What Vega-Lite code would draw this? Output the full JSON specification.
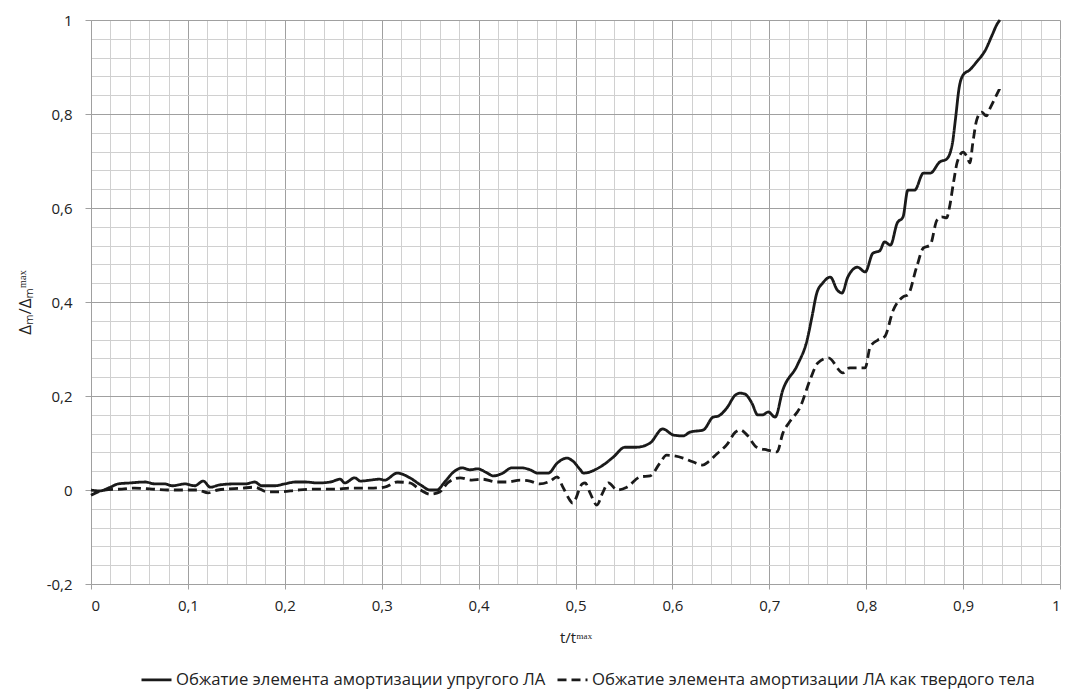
{
  "$schema": "https://vega.github.io/schema/vega-lite/v6.json",
  "width": 969,
  "height": 564,
  "autosize": {"type": "none"},
  "padding": {"left": 91, "top": 20, "right": 7, "bottom": 115},
  "background": "white",
  "config": {
    "view": {"stroke": null},
    "font": "Open Sans",
    "axis": {"labelFont": "Open Sans", "titleFont": "Open Sans", "labelColor": "#222", "titleColor": "#222", "titleFontWeight": "normal"},
    "legend": {"labelFont": "Open Sans"}
  },
  "datasets": {
    "curves": [
      {"t": 0.000, "d": 0.000, "s": "Обжатие элемента амортизации упругого ЛА"},
      {"t": 0.009, "d": -0.002, "s": "Обжатие элемента амортизации упругого ЛА"},
      {"t": 0.020, "d": 0.006, "s": "Обжатие элемента амортизации упругого ЛА"},
      {"t": 0.028, "d": 0.013, "s": "Обжатие элемента амортизации упругого ЛА"},
      {"t": 0.040, "d": 0.015, "s": "Обжатие элемента амортизации упругого ЛА"},
      {"t": 0.056, "d": 0.017, "s": "Обжатие элемента амортизации упругого ЛА"},
      {"t": 0.066, "d": 0.013, "s": "Обжатие элемента амортизации упругого ЛА"},
      {"t": 0.076, "d": 0.013, "s": "Обжатие элемента амортизации упругого ЛА"},
      {"t": 0.084, "d": 0.009, "s": "Обжатие элемента амортизации упругого ЛА"},
      {"t": 0.097, "d": 0.013, "s": "Обжатие элемента амортизации упругого ЛА"},
      {"t": 0.107, "d": 0.009, "s": "Обжатие элемента амортизации упругого ЛА"},
      {"t": 0.116, "d": 0.019, "s": "Обжатие элемента амортизации упругого ЛА"},
      {"t": 0.123, "d": 0.006, "s": "Обжатие элемента амортизации упругого ЛА"},
      {"t": 0.133, "d": 0.011, "s": "Обжатие элемента амортизации упругого ЛА"},
      {"t": 0.149, "d": 0.013, "s": "Обжатие элемента амортизации упругого ЛА"},
      {"t": 0.159, "d": 0.013, "s": "Обжатие элемента амортизации упругого ЛА"},
      {"t": 0.169, "d": 0.017, "s": "Обжатие элемента амортизации упругого ЛА"},
      {"t": 0.176, "d": 0.009, "s": "Обжатие элемента амортизации упругого ЛА"},
      {"t": 0.190, "d": 0.009, "s": "Обжатие элемента амортизации упругого ЛА"},
      {"t": 0.200, "d": 0.013, "s": "Обжатие элемента амортизации упругого ЛА"},
      {"t": 0.211, "d": 0.017, "s": "Обжатие элемента амортизации упругого ЛА"},
      {"t": 0.221, "d": 0.017, "s": "Обжатие элемента амортизации упругого ЛА"},
      {"t": 0.234, "d": 0.015, "s": "Обжатие элемента амортизации упругого ЛА"},
      {"t": 0.247, "d": 0.017, "s": "Обжатие элемента амортизации упругого ЛА"},
      {"t": 0.257, "d": 0.023, "s": "Обжатие элемента амортизации упругого ЛА"},
      {"t": 0.262, "d": 0.015, "s": "Обжатие элемента амортизации упругого ЛА"},
      {"t": 0.272, "d": 0.026, "s": "Обжатие элемента амортизации упругого ЛА"},
      {"t": 0.278, "d": 0.019, "s": "Обжатие элемента амортизации упругого ЛА"},
      {"t": 0.288, "d": 0.021, "s": "Обжатие элемента амортизации упругого ЛА"},
      {"t": 0.298, "d": 0.023, "s": "Обжатие элемента амортизации упругого ЛА"},
      {"t": 0.303, "d": 0.021, "s": "Обжатие элемента амортизации упругого ЛА"},
      {"t": 0.316, "d": 0.036, "s": "Обжатие элемента амортизации упругого ЛА"},
      {"t": 0.329, "d": 0.026, "s": "Обжатие элемента амортизации упругого ЛА"},
      {"t": 0.340, "d": 0.011, "s": "Обжатие элемента амортизации упругого ЛА"},
      {"t": 0.350, "d": 0.000, "s": "Обжатие элемента амортизации упругого ЛА"},
      {"t": 0.357, "d": 0.000, "s": "Обжатие элемента амортизации упругого ЛА"},
      {"t": 0.365, "d": 0.017, "s": "Обжатие элемента амортизации упругого ЛА"},
      {"t": 0.374, "d": 0.038, "s": "Обжатие элемента амортизации упругого ЛА"},
      {"t": 0.383, "d": 0.047, "s": "Обжатие элемента амортизации упругого ЛА"},
      {"t": 0.391, "d": 0.043, "s": "Обжатие элемента амортизации упругого ЛА"},
      {"t": 0.399, "d": 0.045, "s": "Обжатие элемента амортизации упругого ЛА"},
      {"t": 0.409, "d": 0.036, "s": "Обжатие элемента амортизации упругого ЛА"},
      {"t": 0.415, "d": 0.030, "s": "Обжатие элемента амортизации упругого ЛА"},
      {"t": 0.425, "d": 0.036, "s": "Обжатие элемента амортизации упругого ЛА"},
      {"t": 0.434, "d": 0.047, "s": "Обжатие элемента амортизации упругого ЛА"},
      {"t": 0.445, "d": 0.047, "s": "Обжатие элемента амортизации упругого ЛА"},
      {"t": 0.453, "d": 0.043, "s": "Обжатие элемента амортизации упругого ЛА"},
      {"t": 0.461, "d": 0.036, "s": "Обжатие элемента амортизации упругого ЛА"},
      {"t": 0.472, "d": 0.036, "s": "Обжатие элемента амортизации упругого ЛА"},
      {"t": 0.481, "d": 0.057, "s": "Обжатие элемента амортизации упругого ЛА"},
      {"t": 0.491, "d": 0.068, "s": "Обжатие элемента амортизации упругого ЛА"},
      {"t": 0.497, "d": 0.062, "s": "Обжатие элемента амортизации упругого ЛА"},
      {"t": 0.505, "d": 0.043, "s": "Обжатие элемента амортизации упругого ЛА"},
      {"t": 0.508, "d": 0.036, "s": "Обжатие элемента амортизации упругого ЛА"},
      {"t": 0.527, "d": 0.051, "s": "Обжатие элемента амортизации упругого ЛА"},
      {"t": 0.539, "d": 0.070, "s": "Обжатие элемента амортизации упругого ЛА"},
      {"t": 0.551, "d": 0.091, "s": "Обжатие элемента амортизации упругого ЛА"},
      {"t": 0.563, "d": 0.091, "s": "Обжатие элемента амортизации упругого ЛА"},
      {"t": 0.577, "d": 0.100, "s": "Обжатие элемента амортизации упругого ЛА"},
      {"t": 0.590, "d": 0.130, "s": "Обжатие элемента амортизации упругого ЛА"},
      {"t": 0.601, "d": 0.117, "s": "Обжатие элемента амортизации упругого ЛА"},
      {"t": 0.611, "d": 0.115, "s": "Обжатие элемента амортизации упругого ЛА"},
      {"t": 0.618, "d": 0.123, "s": "Обжатие элемента амортизации упругого ЛА"},
      {"t": 0.632, "d": 0.128, "s": "Обжатие элемента амортизации упругого ЛА"},
      {"t": 0.642, "d": 0.155, "s": "Обжатие элемента амортизации упругого ЛА"},
      {"t": 0.647, "d": 0.157, "s": "Обжатие элемента амортизации упругого ЛА"},
      {"t": 0.656, "d": 0.174, "s": "Обжатие элемента амортизации упругого ЛА"},
      {"t": 0.665, "d": 0.202, "s": "Обжатие элемента амортизации упругого ЛА"},
      {"t": 0.670, "d": 0.206, "s": "Обжатие элемента амортизации упругого ЛА"},
      {"t": 0.675, "d": 0.204, "s": "Обжатие элемента амортизации упругого ЛА"},
      {"t": 0.682, "d": 0.185, "s": "Обжатие элемента амортизации упругого ЛА"},
      {"t": 0.688, "d": 0.160, "s": "Обжатие элемента амортизации упругого ЛА"},
      {"t": 0.693, "d": 0.160, "s": "Обжатие элемента амортизации упругого ЛА"},
      {"t": 0.699, "d": 0.166, "s": "Обжатие элемента амортизации упругого ЛА"},
      {"t": 0.706, "d": 0.155, "s": "Обжатие элемента амортизации упругого ЛА"},
      {"t": 0.714, "d": 0.213, "s": "Обжатие элемента амортизации упругого ЛА"},
      {"t": 0.729, "d": 0.266, "s": "Обжатие элемента амортизации упругого ЛА"},
      {"t": 0.739, "d": 0.319, "s": "Обжатие элемента амортизации упругого ЛА"},
      {"t": 0.744, "d": 0.368, "s": "Обжатие элемента амортизации упругого ЛА"},
      {"t": 0.749, "d": 0.419, "s": "Обжатие элемента амортизации упругого ЛА"},
      {"t": 0.755, "d": 0.440, "s": "Обжатие элемента амортизации упругого ЛА"},
      {"t": 0.763, "d": 0.453, "s": "Обжатие элемента амортизации упругого ЛА"},
      {"t": 0.770, "d": 0.426, "s": "Обжатие элемента амортизации упругого ЛА"},
      {"t": 0.775, "d": 0.419, "s": "Обжатие элемента амортизации упругого ЛА"},
      {"t": 0.781, "d": 0.453, "s": "Обжатие элемента амортизации упругого ЛА"},
      {"t": 0.791, "d": 0.474, "s": "Обжатие элемента амортизации упругого ЛА"},
      {"t": 0.799, "d": 0.464, "s": "Обжатие элемента амортизации упругого ЛА"},
      {"t": 0.807, "d": 0.504, "s": "Обжатие элемента амортизации упругого ЛА"},
      {"t": 0.814, "d": 0.509, "s": "Обжатие элемента амортизации упругого ЛА"},
      {"t": 0.819, "d": 0.528, "s": "Обжатие элемента амортизации упругого ЛА"},
      {"t": 0.825, "d": 0.521, "s": "Обжатие элемента амортизации упругого ЛА"},
      {"t": 0.832, "d": 0.568, "s": "Обжатие элемента амортизации упругого ЛА"},
      {"t": 0.838, "d": 0.581, "s": "Обжатие элемента амортизации упругого ЛА"},
      {"t": 0.843, "d": 0.638, "s": "Обжатие элемента амортизации упругого ЛА"},
      {"t": 0.850, "d": 0.638, "s": "Обжатие элемента амортизации упругого ЛА"},
      {"t": 0.859, "d": 0.674, "s": "Обжатие элемента амортизации упругого ЛА"},
      {"t": 0.866, "d": 0.674, "s": "Обжатие элемента амортизации упругого ЛА"},
      {"t": 0.876, "d": 0.698, "s": "Обжатие элемента амортизации упругого ЛА"},
      {"t": 0.883, "d": 0.704, "s": "Обжатие элемента амортизации упругого ЛА"},
      {"t": 0.889, "d": 0.738, "s": "Обжатие элемента амортизации упругого ЛА"},
      {"t": 0.892, "d": 0.787, "s": "Обжатие элемента амортизации упругого ЛА"},
      {"t": 0.896, "d": 0.857, "s": "Обжатие элемента амортизации упругого ЛА"},
      {"t": 0.900, "d": 0.883, "s": "Обжатие элемента амортизации упругого ЛА"},
      {"t": 0.907, "d": 0.894, "s": "Обжатие элемента амортизации упругого ЛА"},
      {"t": 0.914, "d": 0.911, "s": "Обжатие элемента амортизации упругого ЛА"},
      {"t": 0.923, "d": 0.936, "s": "Обжатие элемента амортизации упругого ЛА"},
      {"t": 0.930, "d": 0.968, "s": "Обжатие элемента амортизации упругого ЛА"},
      {"t": 0.935, "d": 0.991, "s": "Обжатие элемента амортизации упругого ЛА"},
      {"t": 0.938, "d": 1.000, "s": "Обжатие элемента амортизации упругого ЛА"},
      {"t": 0.000, "d": -0.011, "s": "Обжатие элемента амортизации ЛА  как твердого тела"},
      {"t": 0.014, "d": 0.000, "s": "Обжатие элемента амортизации ЛА  как твердого тела"},
      {"t": 0.032, "d": 0.002, "s": "Обжатие элемента амортизации ЛА  как твердого тела"},
      {"t": 0.045, "d": 0.004, "s": "Обжатие элемента амортизации ЛА  как твердого тела"},
      {"t": 0.063, "d": 0.002, "s": "Обжатие элемента амортизации ЛА  как твердого тела"},
      {"t": 0.079, "d": 0.000, "s": "Обжатие элемента амортизации ЛА  как твердого тела"},
      {"t": 0.097, "d": 0.000, "s": "Обжатие элемента амортизации ЛА  как твердого тела"},
      {"t": 0.110, "d": 0.000, "s": "Обжатие элемента амортизации ЛА  как твердого тела"},
      {"t": 0.121, "d": -0.006, "s": "Обжатие элемента амортизации ЛА  как твердого тела"},
      {"t": 0.131, "d": 0.000, "s": "Обжатие элемента амортизации ЛА  как твердого тела"},
      {"t": 0.156, "d": 0.004, "s": "Обжатие элемента амортизации ЛА  как твердого тела"},
      {"t": 0.169, "d": 0.006, "s": "Обжатие элемента амортизации ЛА  как твердого тела"},
      {"t": 0.182, "d": -0.004, "s": "Обжатие элемента амортизации ЛА  как твердого тела"},
      {"t": 0.193, "d": -0.004, "s": "Обжатие элемента амортизации ЛА  как твердого тела"},
      {"t": 0.214, "d": 0.000, "s": "Обжатие элемента амортизации ЛА  как твердого тела"},
      {"t": 0.234, "d": 0.002, "s": "Обжатие элемента амортизации ЛА  как твердого тела"},
      {"t": 0.252, "d": 0.002, "s": "Обжатие элемента амортизации ЛА  как твердого тела"},
      {"t": 0.267, "d": 0.004, "s": "Обжатие элемента амортизации ЛА  как твердого тела"},
      {"t": 0.288, "d": 0.004, "s": "Обжатие элемента амортизации ЛА  как твердого тела"},
      {"t": 0.303, "d": 0.006, "s": "Обжатие элемента амортизации ЛА  как твердого тела"},
      {"t": 0.316, "d": 0.017, "s": "Обжатие элемента амортизации ЛА  как твердого тела"},
      {"t": 0.329, "d": 0.015, "s": "Обжатие элемента амортизации ЛА  как твердого тела"},
      {"t": 0.340, "d": 0.000, "s": "Обжатие элемента амортизации ЛА  как твердого тела"},
      {"t": 0.350, "d": -0.009, "s": "Обжатие элемента амортизации ЛА  как твердого тела"},
      {"t": 0.360, "d": -0.004, "s": "Обжатие элемента амортизации ЛА  как твердого тела"},
      {"t": 0.368, "d": 0.015, "s": "Обжатие элемента амортизации ЛА  как твердого тела"},
      {"t": 0.381, "d": 0.026, "s": "Обжатие элемента амортизации ЛА  как твердого тела"},
      {"t": 0.393, "d": 0.021, "s": "Обжатие элемента амортизации ЛА  как твердого тела"},
      {"t": 0.404, "d": 0.023, "s": "Обжатие элемента амортизации ЛА  как твердого тела"},
      {"t": 0.419, "d": 0.017, "s": "Обжатие элемента амортизации ЛА  как твердого тела"},
      {"t": 0.429, "d": 0.017, "s": "Обжатие элемента амортизации ЛА  как твердого тела"},
      {"t": 0.443, "d": 0.021, "s": "Обжатие элемента амортизации ЛА  как твердого тела"},
      {"t": 0.453, "d": 0.019, "s": "Обжатие элемента амортизации ЛА  как твердого тела"},
      {"t": 0.463, "d": 0.013, "s": "Обжатие элемента амортизации ЛА  как твердого тела"},
      {"t": 0.474, "d": 0.019, "s": "Обжатие элемента амортизации ЛА  как твердого тела"},
      {"t": 0.481, "d": 0.028, "s": "Обжатие элемента амортизации ЛА  как твердого тела"},
      {"t": 0.487, "d": 0.006, "s": "Обжатие элемента амортизации ЛА  как твердого тела"},
      {"t": 0.494, "d": -0.021, "s": "Обжатие элемента амортизации ЛА  как твердого тела"},
      {"t": 0.497, "d": -0.028, "s": "Обжатие элемента амортизации ЛА  как твердого тела"},
      {"t": 0.507, "d": 0.013, "s": "Обжатие элемента амортизации ЛА  как твердого тела"},
      {"t": 0.510, "d": 0.015, "s": "Обжатие элемента амортизации ЛА  как твердого тела"},
      {"t": 0.515, "d": -0.006, "s": "Обжатие элемента амортизации ЛА  как твердого тела"},
      {"t": 0.522, "d": -0.032, "s": "Обжатие элемента амортизации ЛА  как твердого тела"},
      {"t": 0.528, "d": -0.006, "s": "Обжатие элемента амортизации ЛА  как твердого тела"},
      {"t": 0.534, "d": 0.015, "s": "Обжатие элемента амортизации ЛА  как твердого тела"},
      {"t": 0.543, "d": 0.000, "s": "Обжатие элемента амортизации ЛА  как твердого тела"},
      {"t": 0.553, "d": 0.006, "s": "Обжатие элемента амортизации ЛА  как твердого тела"},
      {"t": 0.567, "d": 0.028, "s": "Обжатие элемента амортизации ЛА  как твердого тела"},
      {"t": 0.577, "d": 0.030, "s": "Обжатие элемента амортизации ЛА  как твердого тела"},
      {"t": 0.587, "d": 0.057, "s": "Обжатие элемента амортизации ЛА  как твердого тела"},
      {"t": 0.594, "d": 0.074, "s": "Обжатие элемента амортизации ЛА  как твердого тела"},
      {"t": 0.611, "d": 0.068, "s": "Обжатие элемента амортизации ЛА  как твердого тела"},
      {"t": 0.621, "d": 0.060, "s": "Обжатие элемента амортизации ЛА  как твердого тела"},
      {"t": 0.631, "d": 0.053, "s": "Обжатие элемента амортизации ЛА  как твердого тела"},
      {"t": 0.637, "d": 0.060, "s": "Обжатие элемента амортизации ЛА  как твердого тела"},
      {"t": 0.646, "d": 0.077, "s": "Обжатие элемента амортизации ЛА  как твердого тела"},
      {"t": 0.656, "d": 0.096, "s": "Обжатие элемента амортизации ЛА  как твердого тела"},
      {"t": 0.665, "d": 0.123, "s": "Обжатие элемента амортизации ЛА  как твердого тела"},
      {"t": 0.670, "d": 0.128, "s": "Обжатие элемента амортизации ЛА  как твердого тела"},
      {"t": 0.677, "d": 0.117, "s": "Обжатие элемента амортизации ЛА  как твердого тела"},
      {"t": 0.687, "d": 0.091, "s": "Обжатие элемента амортизации ЛА  как твердого тела"},
      {"t": 0.698, "d": 0.085, "s": "Обжатие элемента амортизации ЛА  как твердого тела"},
      {"t": 0.708, "d": 0.081, "s": "Обжатие элемента амортизации ЛА  как твердого тела"},
      {"t": 0.714, "d": 0.121, "s": "Обжатие элемента амортизации ЛА  как твердого тела"},
      {"t": 0.721, "d": 0.145, "s": "Обжатие элемента амортизации ЛА  как твердого тела"},
      {"t": 0.732, "d": 0.177, "s": "Обжатие элемента амортизации ЛА  как твердого тела"},
      {"t": 0.742, "d": 0.234, "s": "Обжатие элемента амортизации ЛА  как твердого тела"},
      {"t": 0.750, "d": 0.270, "s": "Обжатие элемента амортизации ЛА  как твердого тела"},
      {"t": 0.761, "d": 0.281, "s": "Обжатие элемента амортизации ЛА  как твердого тела"},
      {"t": 0.776, "d": 0.249, "s": "Обжатие элемента амортизации ЛА  как твердого тела"},
      {"t": 0.783, "d": 0.260, "s": "Обжатие элемента амортизации ЛА  как твердого тела"},
      {"t": 0.799, "d": 0.260, "s": "Обжатие элемента амортизации ЛА  как твердого тела"},
      {"t": 0.804, "d": 0.304, "s": "Обжатие элемента амортизации ЛА  как твердого тела"},
      {"t": 0.812, "d": 0.319, "s": "Обжатие элемента амортизации ЛА  как твердого тела"},
      {"t": 0.819, "d": 0.326, "s": "Обжатие элемента амортизации ЛА  как твердого тела"},
      {"t": 0.828, "d": 0.383, "s": "Обжатие элемента амортизации ЛА  как твердого тела"},
      {"t": 0.838, "d": 0.411, "s": "Обжатие элемента амортизации ЛА  как твердого тела"},
      {"t": 0.843, "d": 0.415, "s": "Обжатие элемента амортизации ЛА  как твердого тела"},
      {"t": 0.852, "d": 0.474, "s": "Обжатие элемента амортизации ЛА  как твердого тела"},
      {"t": 0.859, "d": 0.515, "s": "Обжатие элемента амортизации ЛА  как твердого тела"},
      {"t": 0.866, "d": 0.521, "s": "Обжатие элемента амортизации ЛА  как твердого тела"},
      {"t": 0.873, "d": 0.574, "s": "Обжатие элемента амортизации ЛА  как твердого тела"},
      {"t": 0.878, "d": 0.581, "s": "Обжатие элемента амортизации ЛА  как твердого тела"},
      {"t": 0.883, "d": 0.579, "s": "Обжатие элемента амортизации ЛА  как твердого тела"},
      {"t": 0.886, "d": 0.602, "s": "Обжатие элемента амортизации ЛА  как твердого тела"},
      {"t": 0.890, "d": 0.653, "s": "Обжатие элемента амортизации ЛА  как твердого тела"},
      {"t": 0.894, "d": 0.698, "s": "Обжатие элемента амортизации ЛА  как твердого тела"},
      {"t": 0.900, "d": 0.719, "s": "Обжатие элемента амортизации ЛА  как твердого тела"},
      {"t": 0.904, "d": 0.709, "s": "Обжатие элемента амортизации ЛА  как твердого тела"},
      {"t": 0.907, "d": 0.696, "s": "Обжатие элемента амортизации ЛА  как твердого тела"},
      {"t": 0.910, "d": 0.738, "s": "Обжатие элемента амортизации ЛА  как твердого тела"},
      {"t": 0.914, "d": 0.787, "s": "Обжатие элемента амортизации ЛА  как твердого тела"},
      {"t": 0.919, "d": 0.804, "s": "Обжатие элемента амортизации ЛА  как твердого тела"},
      {"t": 0.924, "d": 0.796, "s": "Обжатие элемента амортизации ЛА  как твердого тела"},
      {"t": 0.928, "d": 0.813, "s": "Обжатие элемента амортизации ЛА  как твердого тела"},
      {"t": 0.933, "d": 0.834, "s": "Обжатие элемента амортизации ЛА  как твердого тела"},
      {"t": 0.938, "d": 0.855, "s": "Обжатие элемента амортизации ЛА  как твердого тела"}
    ]
  },
  "data": {"name": "curves"},
  "resolve": {"axis": {"x": "independent", "y": "independent"}},
  "layer": [
    {
      "mark": {"type": "line", "strokeOpacity": 0},
      "encoding": {
        "x": {
          "field": "t", "type": "quantitative",
          "scale": {"domain": [0, 1], "nice": false, "zero": false},
          "axis": {
            "orient": "bottom",
            "values": [0.02, 0.04, 0.06, 0.08, 0.12, 0.14, 0.16, 0.18, 0.22, 0.24, 0.26, 0.28, 0.32, 0.34, 0.36, 0.38, 0.42, 0.44, 0.46, 0.48, 0.52, 0.54, 0.56, 0.58, 0.62, 0.64, 0.66, 0.68, 0.72, 0.74, 0.76, 0.78, 0.82, 0.84, 0.86, 0.88, 0.92, 0.94, 0.96, 0.98],
            "grid": true, "gridColor": "#d0d0d0", "gridWidth": 1,
            "labels": false, "ticks": false, "domain": false, "title": null
          }
        },
        "y": {
          "field": "d", "type": "quantitative",
          "scale": {"domain": [-0.2, 1], "nice": false, "zero": false},
          "axis": {
            "orient": "left",
            "values": [-0.16, -0.12, -0.08, -0.04, 0.04, 0.08, 0.12, 0.16, 0.24, 0.28, 0.32, 0.36, 0.44, 0.48, 0.52, 0.56, 0.64, 0.68, 0.72, 0.76, 0.84, 0.88, 0.92, 0.96],
            "grid": true, "gridColor": "#d0d0d0", "gridWidth": 1,
            "labels": false, "ticks": false, "domain": false, "title": null
          }
        },
        "detail": {"field": "s"}
      }
    },
    {
      "mark": {"type": "line", "strokeWidth": 2.8, "interpolate": "monotone"},
      "encoding": {
        "x": {
          "field": "t", "type": "quantitative",
          "scale": {"domain": [0, 1], "nice": false, "zero": false},
          "axis": {
            "orient": "bottom",
            "values": [0, 0.1, 0.2, 0.3, 0.4, 0.5, 0.6, 0.7, 0.8, 0.9, 1],
            "labelExpr": "replace(replace(format(datum.value, '~g'), '.', ','), '−', '-')",
            "grid": true, "gridColor": "#a0a0a0", "gridWidth": 1,
            "domainColor": "#a0a0a0", "tickColor": "#a0a0a0", "tickSize": 5,
            "labelFontSize": 15, "labelPadding": 9,
            "title": "t/tᵐᵃˣ", "titleFontSize": 15, "titlePadding": 17
          }
        },
        "y": {
          "field": "d", "type": "quantitative",
          "scale": {"domain": [-0.2, 1], "nice": false, "zero": false},
          "axis": {
            "orient": "left",
            "values": [-0.2, 0, 0.2, 0.4, 0.6, 0.8, 1],
            "labelExpr": "replace(replace(format(datum.value, '~g'), '.', ','), '−', '-')",
            "grid": true, "gridColor": "#a0a0a0", "gridWidth": 1,
            "domainColor": "#a0a0a0", "tickColor": "#a0a0a0", "tickSize": 6,
            "labelFontSize": 15, "labelPadding": 13,
            "title": "Δₘ/Δₘᵐᵃˣ", "titleFontSize": 17, "titlePadding": 12
          }
        },
        "color": {
          "field": "s", "type": "nominal",
          "scale": {"domain": ["Обжатие элемента амортизации упругого ЛА", "Обжатие элемента амортизации ЛА  как твердого тела"], "range": ["#1a1a1a", "#1a1a1a"]},
          "legend": {
            "orient": "none", "legendX": 49, "legendY": 643, "direction": "horizontal", "title": null,
            "symbolType": "stroke", "symbolSize": 900, "symbolStrokeWidth": 2.8,
            "labelFontSize": 16.7, "labelColor": "#222", "labelLimit": 700, "columnPadding": 5, "labelOffset": 3
          }
        },
        "strokeDash": {
          "field": "s", "type": "nominal",
          "scale": {"domain": ["Обжатие элемента амортизации упругого ЛА", "Обжатие элемента амортизации ЛА  как твердого тела"], "range": [[1, 0], [9, 5]]},
          "legend": {
            "orient": "none", "legendX": 49, "legendY": 643, "direction": "horizontal", "title": null,
            "symbolType": "stroke", "symbolSize": 900, "symbolStrokeWidth": 2.8,
            "labelFontSize": 16.7, "labelColor": "#222", "labelLimit": 700, "columnPadding": 5, "labelOffset": 3
          }
        }
      }
    }
  ]
}
